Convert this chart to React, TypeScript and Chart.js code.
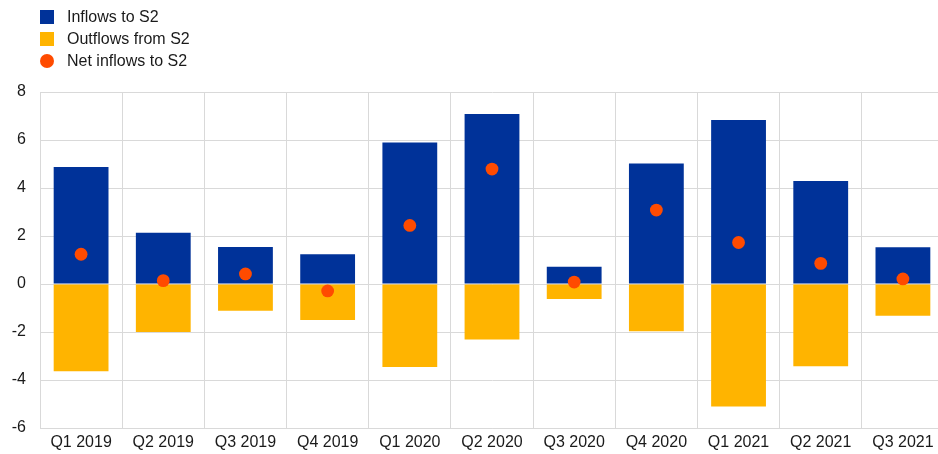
import React, { useEffect, useRef } from "react";
import { Chart, registerables } from "chart.js";

Chart.register(...registerables);

const categories = [
  "Q1 2019", "Q2 2019", "Q3 2019", "Q4 2019",
  "Q1 2020", "Q2 2020", "Q3 2020", "Q4 2020",
  "Q1 2021", "Q2 2021", "Q3 2021",
];
const inflows = [4.87, 2.14, 1.54, 1.24, 5.9, 7.08, 0.72, 5.02, 6.83, 4.29, 1.53];
const outflows = [-3.64, -2.0, -1.11, -1.5, -3.46, -2.31, -0.63, -1.97, -5.1, -3.43, -1.32];
const netInflows = [1.24, 0.14, 0.42, -0.29, 2.44, 4.79, 0.08, 3.08, 1.73, 0.86, 0.21];
const yTicks = [-6, -4, -2, 0, 2, 4, 6, 8];

const seriesNames = ["Inflows to S2", "Outflows from S2", "Net inflows to S2"];
const BLUE = "#003299";
const YELLOW = "#FFB400";
const ORANGE = "#FF4B00";
const FONT = "'Liberation Sans', Arial, sans-serif";

export default function App() {
  const ref = useRef<HTMLCanvasElement | null>(null);

  useEffect(() => {
    if (!ref.current) return;
    const chart = new Chart(ref.current, {
      type: "bar",
      data: {
        labels: categories,
        datasets: [
          {
            type: "bar",
            label: seriesNames[0],
            data: inflows,
            backgroundColor: BLUE,
            stack: "bars",
            order: 1,
            barPercentage: 0.667,
            categoryPercentage: 1,
          },
          {
            type: "bar",
            label: seriesNames[1],
            data: outflows,
            backgroundColor: YELLOW,
            stack: "bars",
            order: 1,
            barPercentage: 0.667,
            categoryPercentage: 1,
          },
          {
            type: "line",
            label: seriesNames[2],
            data: netInflows,
            stack: "net",
            order: 0,
            showLine: false,
            pointRadius: 6.4,
            pointHoverRadius: 6.4,
            pointBackgroundColor: ORANGE,
            pointBorderWidth: 0,
            borderColor: ORANGE,
            backgroundColor: ORANGE,
          } as any,
        ],
      },
      options: {
        animation: false,
        responsive: false,
        maintainAspectRatio: false,
        layout: { autoPadding: false, padding: { top: 92, right: 0, left: 0, bottom: 0 } },
        plugins: {
          legend: { display: false },
          tooltip: { enabled: false },
        },
        scales: {
          x: {
            stacked: true,
            grid: { color: "#d9d9d9", drawTicks: false, offset: true },
            border: { display: true, color: "#d9d9d9" },
            ticks: {
              color: "#1a1a1a",
              font: { family: FONT, size: 16 },
              padding: 5,
              maxRotation: 0,
              autoSkip: false,
            },
            afterFit: (scale: any) => {
              scale.height = 26;
            },
          },
          y: {
            stacked: true,
            min: -6,
            max: 8,
            grid: { color: "#d9d9d9", drawTicks: false },
            border: { display: true, color: "#d9d9d9" },
            afterBuildTicks: (scale: any) => {
              scale.ticks = yTicks.map((v) => ({ value: v }));
            },
            ticks: {
              color: "#1a1a1a",
              font: { family: FONT, size: 16 },
              padding: 14,
            },
            afterFit: (scale: any) => {
              scale.width = 40;
            },
          },
        },
      } as any,
    });
    return () => chart.destroy();
  }, []);

  const legendItem = (i: number, color: string, round: boolean) => (
    <div
      key={i}
      style={{
        position: "absolute",
        left: 40,
        top: 7 + i * 22,
        height: 20,
        display: "flex",
        alignItems: "center",
      }}
    >
      <div
        style={{
          width: 14,
          height: 14,
          background: color,
          borderRadius: round ? "50%" : 0,
          marginRight: 13,
          flex: "none",
        }}
      />
      <span style={{ fontFamily: FONT, fontSize: 16, color: "#1a1a1a", whiteSpace: "nowrap" }}>
        {seriesNames[i]}
      </span>
    </div>
  );

  return (
    <div
      style={{
        position: "fixed",
        left: 0,
        top: 0,
        width: 938,
        height: 454,
        overflow: "hidden",
        background: "#fff",
      }}
    >
      <canvas ref={ref} width={944} height={454} style={{ position: "absolute", left: 0, top: 0 }} />
      {legendItem(0, BLUE, false)}
      {legendItem(1, YELLOW, false)}
      {legendItem(2, ORANGE, true)}
    </div>
  );
}
